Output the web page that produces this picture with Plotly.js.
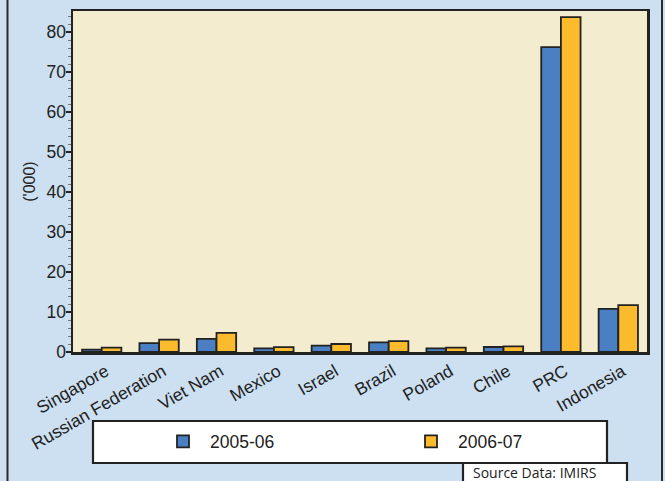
<!DOCTYPE html>
<html>
<head>
<meta charset="utf-8">
<script src="https://cdn.plot.ly/plotly-3.0.1.min.js"></script>
<style>html,body{margin:0;padding:0;background:#cde0f1;}#chart{width:665px;height:481px;}</style>
</head>
<body>
<div id="chart"></div>
<script>
var categories = ["Singapore", "Russian Federation", "Viet Nam", "Mexico", "Israel", "Brazil", "Poland", "Chile", "PRC", "Indonesia"];
var seriesNames = ["2005-06", "2006-07"];
var values2005 = [0.6, 2.2, 3.3, 0.9, 1.6, 2.4, 0.9, 1.25, 76.2, 10.8];
var values2006 = [1.1, 3.1, 4.8, 1.2, 2.0, 2.7, 1.1, 1.4, 83.7, 11.7];
var yTickVals = [0, 10, 20, 30, 40, 50, 60, 70, 80];
var sourceText = "Source Data: IMIRS";

var W = 665, H = 481;
var L = 73, R = 18, T = 11, B = 129;
var pw = W - L - R, ph = H - T - B;
function px(x) { return (x - L) / pw; }
function py(y) { return (H - B - y) / ph; }

var FONT = 'Arial, "Liberation Sans", sans-serif';

var traces = [
  {type: 'bar', name: seriesNames[0], x: categories, y: values2005, legend: 'legend',
   marker: {color: '#4a80c3', line: {color: '#222222', width: 1.8}}},
  {type: 'bar', name: seriesNames[1], x: categories, y: values2006, legend: 'legend2',
   marker: {color: '#fcba2d', line: {color: '#222222', width: 1.8}}}
];

function legendAt(xpx) {
  return {
    orientation: 'h', x: px(xpx), xanchor: 'left', y: py(441.5), yanchor: 'middle',
    bgcolor: 'rgba(0,0,0,0)', borderwidth: 0, itemwidth: 44,
    font: {family: FONT, size: 17.5, color: '#222222'}
  };
}

var layout = {
  width: W, height: H,
  margin: {l: L, r: R, t: T, b: B, pad: 0},
  paper_bgcolor: '#cde0f1',
  plot_bgcolor: '#f3ecce',
  font: {family: FONT, color: '#222222'},
  barmode: 'group',
  bargap: 0.315,
  bargroupgap: 0,
  showlegend: true,
  legend: legendAt(156),
  legend2: legendAt(404),
  xaxis: {
    type: 'category', tickangle: -30, ticks: '', showgrid: false,
    showline: true, linecolor: '#222222', linewidth: 2.5, mirror: true,
    tickfont: {family: FONT, size: 17.5, color: '#222222'}, ticklabelshift: 4, fixedrange: true
  },
  yaxis: {
    range: [0, 85.25], tickvals: yTickVals, ticks: 'outside', ticklen: 5, tickwidth: 1.5,
    tickcolor: '#222222', showgrid: false, zeroline: false,
    showline: true, linecolor: '#222222', linewidth: 2.5, mirror: true,
    tickfont: {family: FONT, size: 17.5, color: '#222222'},
    ticklabelstandoff: -4,
    minor: {dtick: 2, ticks: 'outside', ticklen: 3, tickcolor: '#777777', tickwidth: 1, showgrid: false},
    title: {text: "('000)", font: {family: FONT, size: 16, color: '#222222'}, standoff: 7},
    fixedrange: true
  },
  shapes: [
    {type: 'line', xref: 'paper', yref: 'paper', x0: px(7.5), x1: px(7.5), y0: py(0), y1: py(481), line: {color: '#2a2a2a', width: 2}},
    {type: 'line', xref: 'paper', yref: 'paper', x0: px(662), x1: px(662), y0: py(0), y1: py(481), line: {color: '#2a2a2a', width: 2}},
    {type: 'rect', xref: 'paper', yref: 'paper', x0: px(93), x1: px(607), y0: py(421), y1: py(463), fillcolor: '#ffffff', line: {color: '#222222', width: 2.2}, layer: 'below'},
    {type: 'rect', xref: 'paper', yref: 'paper', x0: px(463), x1: px(627), y0: py(463), y1: py(490), fillcolor: '#ffffff', line: {color: '#222222', width: 2.2}, layer: 'below'}
  ],
  annotations: [
    {text: sourceText, xref: 'paper', yref: 'paper', x: px(471), xanchor: 'left', y: py(472), yanchor: 'middle',
     showarrow: false, font: {family: 'Open Sans, sans-serif', size: 14, color: '#222222'}}
  ]
};

Plotly.newPlot('chart', traces, layout, {displayModeBar: false, staticPlot: true});
</script>
</body>
</html>
